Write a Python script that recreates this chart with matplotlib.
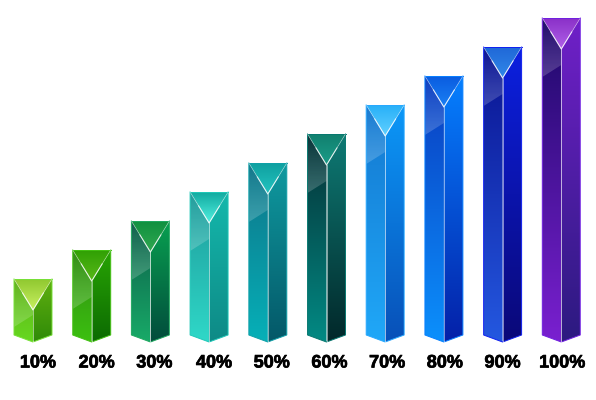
import matplotlib
matplotlib.use("Agg")
import matplotlib.pyplot as plt
import matplotlib.patheffects as pe
from matplotlib.colors import LinearSegmentedColormap, to_rgb
from matplotlib.patches import Polygon
import numpy as np

labels = ["10%", "20%", "30%", "40%", "50%", "60%", "70%", "80%", "90%", "100%"]
values = [10, 20, 30, 40, 50, 60, 70, 80, 90, 100]

# left face top -> bottom
left_top = ["#5fb018", "#2e8a10", "#0c5c48", "#1e9a9a", "#0e7488", "#062f34", "#1478d0", "#0a3cc0", "#0a1290", "#1c0868"]
left_bot = ["#66d820", "#3cc010", "#18aa68", "#2fd8c8", "#06b0b8", "#028a84", "#20a8f8", "#0c90fc", "#2458e0", "#7a20d0"]
# right face top -> bottom
right_top = ["#60b010", "#28a404", "#08a050", "#14b8ac", "#0f9aa0", "#0e7a74", "#0c98f8", "#0680ff", "#0c20e0", "#7020c8"]
right_bot = ["#2f8a08", "#0c6a02", "#024c3c", "#0e8a86", "#045868", "#02282a", "#0850b8", "#0420a8", "#0a0878", "#2c1a80"]
# top triangle back -> front
cap_back = ["#90c830", "#30a004", "#109040", "#12aaa0", "#0fa0a0", "#12806f", "#28b0f8", "#0a5ce0", "#2068d8", "#8a30c8"]
cap_front = ["#c8f060", "#58b818", "#30a850", "#50f0e0", "#24c4c0", "#1a9c88", "#60d0ff", "#1a80f4", "#3088e8", "#b060e8"]
rim = ["#78e038", "#44c014", "#20a860", "#20c8b8", "#10a0a8", "#087870", "#28a8ff", "#0880ff", "#1020f0", "#7020e0"]

X_STEP = 58.7     # px between bars
Y_STEP = 2.9      # px per percent
HALF = 19.0 / X_STEP
APEX = 31 / Y_STEP
BASE_SIDE = -27 / Y_STEP
BASE_TIP = -34 / Y_STEP
label_nudge = [5, 5, 4, 5, 4, 3, 2, 1, 0, 1]  # px


def clip_to(ax, im, poly):
    patch = Polygon(poly, closed=True, transform=ax.transData, fc="none", ec="none")
    ax.add_patch(patch)
    im.set_clip_path(patch)


def gradient(ax, poly, x0, x1, y0, y1, c_start, c_end, zorder=2):
    cmap = LinearSegmentedColormap.from_list("g", [c_start, c_end])
    ramp = np.linspace(0, 1, 128)[:, None]
    im = ax.imshow(ramp, cmap=cmap, extent=[x0, x1, y1, y0], origin="upper",
                   aspect="auto", zorder=zorder, interpolation="bilinear")
    clip_to(ax, im, poly)


def gloss(ax, poly, x0, x1, y0, y1, alpha=0.2, zorder=3):
    # white that fades out towards the top of the bar
    rgba = np.ones((64, 2, 4))
    rgba[:, :, 3] = np.linspace(0.02, alpha, 64)[:, None]
    im = ax.imshow(rgba, extent=[x0, x1, y1, y0], origin="upper", aspect="auto",
                   zorder=zorder, interpolation="bilinear")
    clip_to(ax, im, poly)


fig = plt.figure(figsize=(5.96, 4.0), dpi=100)
ax = fig.add_axes([0, 0, 1, 1])

for i, v in enumerate(values):
    l, c, r = i - HALF, i, i + HALF
    apex = v - APEX

    left = [(l, v), (c, apex), (c, BASE_TIP), (l, BASE_SIDE)]
    right = [(r, v), (c, apex), (c, BASE_TIP), (r, BASE_SIDE)]
    cap = [(l, v), (r, v), (c, apex)]
    gradient(ax, left, l, c, v, BASE_TIP, left_top[i], left_bot[i])
    gradient(ax, right, c, r, v, BASE_TIP, right_top[i], right_bot[i])
    gradient(ax, cap, l, r, v, apex, cap_back[i], cap_front[i])

    # gloss on upper left face
    drop = 48 if i == 0 else 59
    gy_l = v - drop / Y_STEP
    gy_c = gy_l + 12 / Y_STEP
    gloss(ax, [(l, v), (c, apex), (c, gy_c), (l, gy_l)], l, c, v, gy_l)

    # rim and bright edges
    ax.plot([l, l, c, r, r], [v, BASE_SIDE, BASE_TIP, BASE_SIDE, v], color=rim[i], lw=0.7,
            zorder=4, solid_joinstyle="miter")
    ax.plot([l, r], [v, v], color=rim[i], lw=0.7, zorder=4)
    # V is faint at the corners, bright at the apex
    ax.plot([l, c, r], [v, apex, v], color="white", lw=0.6, alpha=0.35, zorder=5)
    ax.plot([c - HALF * 0.55, c, c + HALF * 0.55], [apex + APEX * 0.55, apex, apex + APEX * 0.55],
            color="white", lw=0.8, alpha=0.75, zorder=5)
    ax.plot([c, c], [apex, BASE_TIP], color="white", lw=0.6, alpha=0.6, zorder=5)

    txt = ax.annotate(labels[i], (i, -55 / Y_STEP), xytext=(label_nudge[i] * 0.72, 0),
                      textcoords="offset points", ha="center", va="center", color="black",
                      fontsize=13, fontweight="bold", family="Liberation Sans")
    txt.set_path_effects([pe.withStroke(linewidth=0.5, foreground="black")])

ax.set_xlim(-33 / X_STEP, (596 - 33) / X_STEP)
ax.set_ylim((308 - 400) / Y_STEP, 308 / Y_STEP)
ax.axis("off")

fig.savefig("out.png", dpi=100)
